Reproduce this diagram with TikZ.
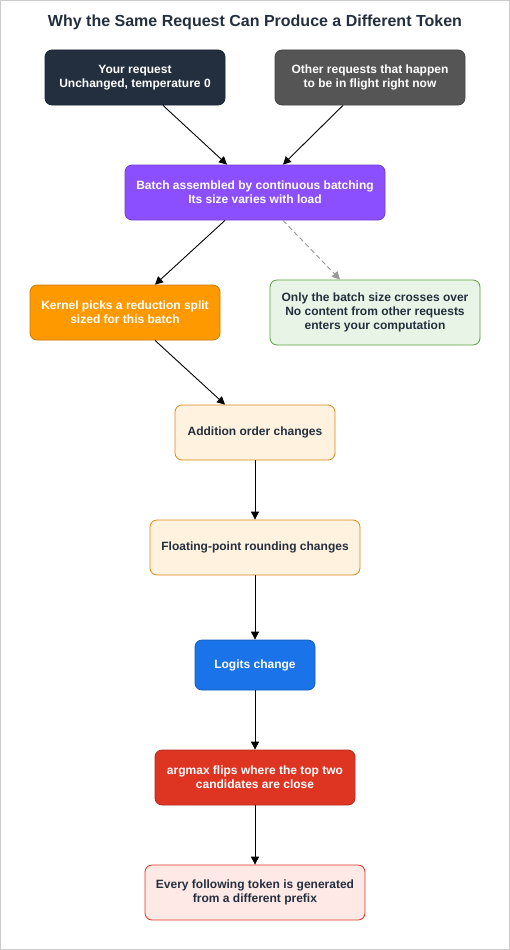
\documentclass[tikz,border=0pt]{standalone}
\usepackage{fontspec}
\setmainfont{Liberation Sans}
\usetikzlibrary{arrows.meta}
\definecolor{navy}{HTML}{232F3E}
\definecolor{greybox}{HTML}{555555}
\definecolor{purp}{HTML}{8C4FFF}
\definecolor{orng}{HTML}{FF9900}
\definecolor{grnfill}{HTML}{E8F5E6}
\definecolor{grnline}{HTML}{5A9E3A}
\definecolor{creamfill}{HTML}{FFF2DF}
\definecolor{creamline}{HTML}{D9891A}
\definecolor{blu}{HTML}{1A73E8}
\definecolor{rd}{HTML}{DD3522}
\definecolor{pinkfill}{HTML}{FFE9E6}
\begin{document}
\begin{tikzpicture}[x=1pt,y=-1pt,
  box/.style={rounded corners=7pt, align=center, font=\bfseries\fontsize{12}{14.2}\selectfont, inner sep=0pt, line width=0.8pt},
  darkbox/.style={box, text=white},
  lightbox/.style={box, text=navy},
  conn/.style={-{Triangle[length=8pt,width=8pt]}, line width=0.9pt, black},
  dconn/.style={-{Triangle[length=8pt,width=8pt]}, line width=0.9pt, gray!80, dash pattern=on 5pt off 3pt}]
\useasboundingbox (0,0) rectangle (510,950);
\draw[black!20, line width=1pt] (0.5,0.5) rectangle (509.5,949.5);
\node[font=\bfseries\fontsize{16}{19}\selectfont, text=navy] (title) at (255,22) {Why the Same Request Can Produce a Different Token};
\node[darkbox, fill=navy, draw=navy!80!black, minimum width=180pt, minimum height=55pt] (req) at (135,77.5) {Your request\\Unchanged, temperature 0};
\node[darkbox, fill=greybox, draw=greybox!80!black, minimum width=190pt, minimum height=55pt] (other) at (370,77.5) {Other requests that happen\\to be in flight right now};
\node[darkbox, fill=purp, draw=purp!80!black, minimum width=260pt, minimum height=55pt] (batch) at (255,192.5) {Batch assembled by continuous batching\\Its size varies with load};
\node[darkbox, fill=orng, draw=orng!80!black, minimum width=190pt, minimum height=55pt] (kernel) at (125,312.5) {Kernel picks a reduction split\\sized for this batch};
\node[lightbox, fill=grnfill, draw=grnline, minimum width=210pt, minimum height=65pt] (only) at (375,312.5) {Only the batch size crosses over\\No content from other requests\\enters your computation};
\node[lightbox, fill=creamfill, draw=creamline, minimum width=160pt, minimum height=55pt] (add) at (255,432.5) {Addition order changes};
\node[lightbox, fill=creamfill, draw=creamline, minimum width=210pt, minimum height=55pt] (float) at (255,547.5) {Floating-point rounding changes};
\node[darkbox, fill=blu, draw=blu!80!black, minimum width=120pt, minimum height=50pt] (logits) at (255,665) {Logits change};
\node[darkbox, fill=rd, draw=rd!80!black, minimum width=200pt, minimum height=55pt] (argmax) at (255,777.5) {argmax flips where the top two\\candidates are close};
\node[lightbox, fill=pinkfill, draw=rd, minimum width=220pt, minimum height=55pt] (every) at (255,892.5) {Every following token is generated\\from a different prefix};
\draw[conn] ([xshift=28pt]req.south) -- ([xshift=-28pt]batch.north);
\draw[conn] ([xshift=-27pt]other.south) -- ([xshift=28pt]batch.north);
\draw[conn] ([xshift=-30pt]batch.south) -- ([xshift=30pt]kernel.north);
\draw[dconn] ([xshift=28pt]batch.south) -- ([xshift=-35pt]only.north);
\draw[conn] ([xshift=30pt]kernel.south) -- ([xshift=-30pt]add.north);
\draw[conn] (add) -- (float);
\draw[conn] (float) -- (logits);
\draw[conn] (logits) -- (argmax);
\draw[conn] (argmax) -- (every);
\end{tikzpicture}
\end{document}
